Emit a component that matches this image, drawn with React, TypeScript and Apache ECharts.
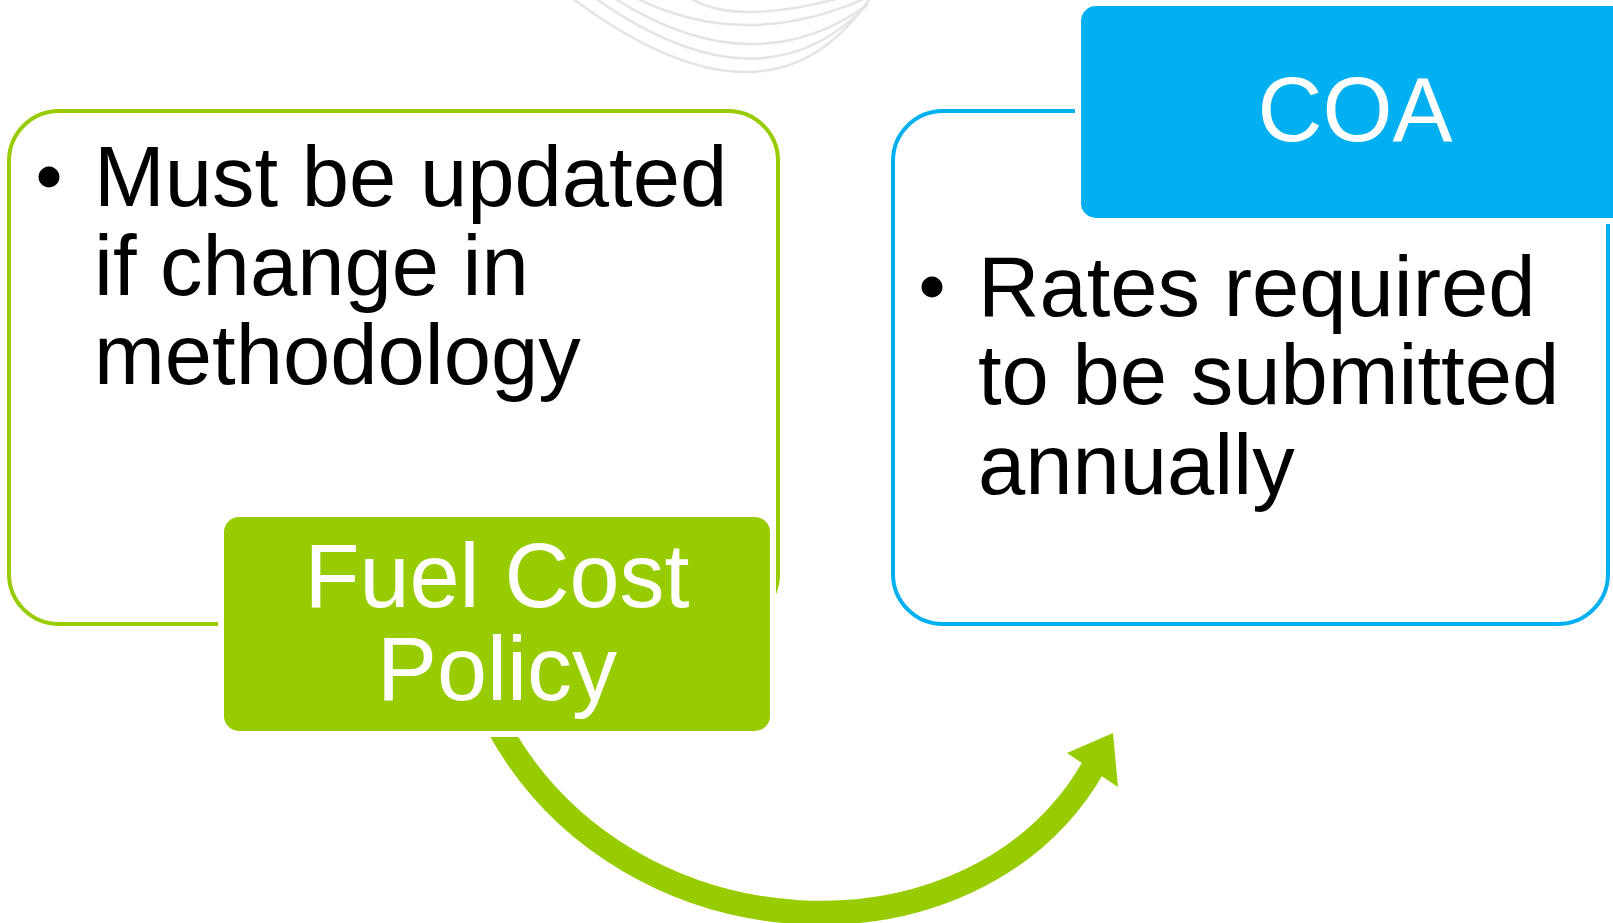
import React, { useEffect, useRef } from "react";
import * as echarts from "echarts";

const W = 1613;
const H = 923;

const leftBullet = ["Must be updated", "if change in", "methodology"];
const rightBullet = ["Rates required", "to be submitted", "annually"];
const greenLabel = ["Fuel Cost", "Policy"];
const blueLabel = ["COA"];

const GREEN = "#99CC00";
const BLUE = "#00B0F0";
const ARC = "#e4e4e4";
const FONT = '"Liberation Sans", Arial, Helvetica, sans-serif';

// decorative faint curves at the top: [x1, y1, cpx, cpy, x2, y2]
const decoArcs: number[][] = [
  [572, -2, 770, 146, 870, -2],
  [595, -2, 762, 116, 868, 4],
  [614, -2, 752, 86, 866, 6],
  [636, -2, 745, 52, 866, -2],
  [690, -2, 735, 26, 840, -2],
];

function textEl(text: string, x: number, y: number, size: number, fill: string, align: string, z: number) {
  return {
    type: "text",
    x,
    y,
    z,
    silent: true,
    style: {
      text,
      font: `${size}px ${FONT}`,
      fill,
      textAlign: align,
      align,
      textVerticalAlign: "middle",
      verticalAlign: "middle",
    },
  };
}

export default function App() {
  const ref = useRef<HTMLDivElement>(null);
  useEffect(() => {
    document.body.style.margin = "0";
    const chart = echarts.init(ref.current!, null, { renderer: "svg", width: W, height: H });
    const els: any[] = [];
    let z = 1;
    decoArcs.forEach((a) => {
      els.push({
        type: "bezierCurve",
        z: z++,
        shape: { x1: a[0], y1: a[1], cpx1: a[2], cpy1: a[3], x2: a[4], y2: a[5] },
        style: { stroke: ARC, lineWidth: 2.5, fill: "none" },
      });
    });
    // outline boxes
    els.push({
      type: "rect",
      z: z++,
      shape: { x: 9, y: 111, width: 769, height: 513, r: 50 },
      style: { fill: "none", stroke: GREEN, lineWidth: 4 },
    });
    els.push({
      type: "rect",
      z: z++,
      shape: { x: 893, y: 111, width: 715, height: 513, r: 50 },
      style: { fill: "none", stroke: BLUE, lineWidth: 4 },
    });
    // curved arrow shaft
    els.push({
      type: "bezierCurve",
      z: z++,
      shape: { x1: 498, y1: 726, cpx1: 625, cpy1: 960, cpx2: 975, cpy2: 975, x2: 1094, y2: 766 },
      style: { stroke: GREEN, lineWidth: 24, fill: "none", lineCap: "butt" },
    });
    els.push({
      type: "polygon",
      z: z++,
      shape: { points: [[1113, 733], [1067, 753], [1118, 787]] },
      style: { fill: GREEN },
    });
    // white backings
    els.push({
      type: "rect",
      z: z++,
      shape: { x: 218, y: 511, width: 558, height: 226, r: 21 },
      style: { fill: "#ffffff" },
    });
    els.push({
      type: "rect",
      z: z++,
      shape: { x: 1075, y: 0, width: 600, height: 224, r: 21 },
      style: { fill: "#ffffff" },
    });
    // filled boxes
    els.push({
      type: "rect",
      z: z++,
      shape: { x: 224, y: 517, width: 546, height: 214, r: 15 },
      style: { fill: GREEN },
    });
    els.push({
      type: "rect",
      z: z++,
      shape: { x: 1081, y: 6, width: 580, height: 212, r: 15 },
      style: { fill: BLUE },
    });
    // texts
    const leftBase = [206, 295, 384];
    leftBullet.forEach((t, i) => els.push(textEl(t, 94, leftBase[i] - 29.7, 85, "#000", "left", z++)));
    const rightBase = [316, 404, 494];
    rightBullet.forEach((t, i) => els.push(textEl(t, 978, rightBase[i] - 29.7, 85, "#000", "left", z++)));
    const gBase = [607, 700];
    greenLabel.forEach((t, i) => els.push(textEl(t, 497, gBase[i] - 31.5, 90, "#fff", "center", z++)));
    blueLabel.forEach((t) => els.push(textEl(t, 1355, 141 - 31.5, 90, "#fff", "center", z++)));
    // bullets
    els.push({ type: "circle", z: z++, shape: { cx: 49, cy: 177, r: 10.5 }, style: { fill: "#000" } });
    els.push({ type: "circle", z: z++, shape: { cx: 932, cy: 287, r: 10.5 }, style: { fill: "#000" } });

    chart.setOption({ animation: false, graphic: { elements: els } });
    return () => chart.dispose();
  }, []);
  return (
    <div
      ref={ref}
      style={{ position: "absolute", left: 0, top: 0, width: W, height: H, background: "#fff" }}
    />
  );
}
